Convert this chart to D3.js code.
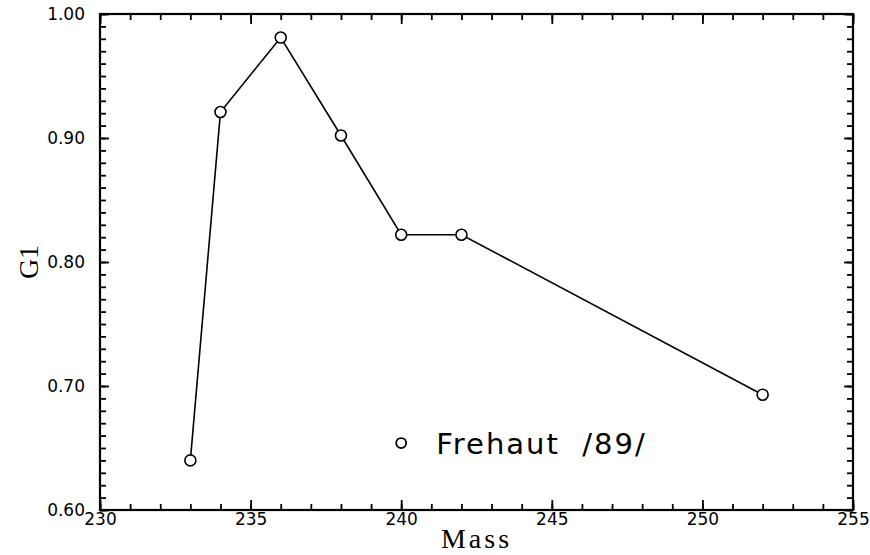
<!DOCTYPE html>
<html>
<head>
  <meta charset="UTF-8">
  <title>G1 vs Mass</title>
  <script src="https://d3js.org/d3.v7.min.js"></script>
  <style>
    body {
      margin: 0;
      background: #fff;
    }
    .tick text {
      font-family: "DejaVu Sans", sans-serif;
      font-size: 17px;
      fill: #000;
    }
    .axis-title {
      font-family: "Liberation Serif", "Times New Roman", serif;
      font-size: 28px;
      letter-spacing: 3px;
      fill: #000;
    }
    .legend-text {
      font-family: "DejaVu Sans", sans-serif;
      font-size: 29px;
      font-weight: 400;
      letter-spacing: 2px;
      fill: #000;
    }
  </style>
</head>
<body>
  <div id="chart"></div>
  <script>
    // data
    const masses = [233, 234, 236, 238, 240, 242, 252];
    const g1Values = [0.640, 0.921, 0.981, 0.902, 0.822, 0.822, 0.693];
    const xMajorTicks = [230, 235, 240, 245, 250, 255];
    const yMajorTicks = [0.60, 0.70, 0.80, 0.90, 1.00];
    const legendLabel = "Frehaut  /89/";

    const W = 870, H = 555;
    const margin = { top: 14, right: 17, bottom: 45, left: 100 };
    const width = W - margin.left - margin.right;
    const height = H - margin.top - margin.bottom;

    const x = d3.scaleLinear().domain([230, 255]).range([0, width]);
    const y = d3.scaleLinear().domain([0.60, 1.00]).range([height, 0]);

    const xMinor = d3.range(230, 256, 1);
    const yMinor = d3.range(0, 41).map(i => +(0.60 + i * 0.01).toFixed(2));

    const svg = d3.select("#chart")
      .append("svg")
      .attr("width", W)
      .attr("height", H)
      .append("g")
      .attr("transform", `translate(${margin.left}, ${margin.top})`);

    const styleAxis = g => {
      g.select(".domain").remove();
      g.selectAll(".tick line").attr("stroke", "#000").attr("stroke-width", 1.8);
    };

    // bottom
    svg.append("g")
      .attr("transform", `translate(0, ${height})`)
      .call(d3.axisBottom(x).tickValues(xMinor).tickSize(-6).tickFormat(""))
      .call(styleAxis);
    svg.append("g")
      .attr("transform", `translate(0, ${height})`)
      .call(d3.axisBottom(x).tickValues(xMajorTicks).tickSize(-10).tickPadding(3).tickFormat(d3.format("d")))
      .call(styleAxis);
    // top
    svg.append("g")
      .call(d3.axisTop(x).tickValues(xMinor).tickSize(-6).tickFormat(""))
      .call(styleAxis);
    svg.append("g")
      .call(d3.axisTop(x).tickValues(xMajorTicks).tickSize(-10).tickFormat(""))
      .call(styleAxis);
    // left
    svg.append("g")
      .call(d3.axisLeft(y).tickValues(yMinor).tickSize(-6).tickFormat(""))
      .call(styleAxis);
    svg.append("g")
      .call(d3.axisLeft(y).tickValues(yMajorTicks).tickSize(-9).tickPadding(15).tickFormat(d3.format(".2f")))
      .call(styleAxis);
    // right
    svg.append("g")
      .attr("transform", `translate(${width}, 0)`)
      .call(d3.axisRight(y).tickValues(yMinor).tickSize(-6).tickFormat(""))
      .call(styleAxis);
    svg.append("g")
      .attr("transform", `translate(${width}, 0)`)
      .call(d3.axisRight(y).tickValues(yMajorTicks).tickSize(-9).tickFormat(""))
      .call(styleAxis);

    // frame
    svg.append("rect")
      .attr("width", width)
      .attr("height", height)
      .attr("fill", "none")
      .attr("stroke", "#000")
      .attr("stroke-width", 2.2);

    const points = masses.map((m, i) => ({ m: m, v: g1Values[i] }));

    svg.append("path")
      .datum(points)
      .attr("fill", "none")
      .attr("stroke", "#000")
      .attr("stroke-width", 1.6)
      .attr("d", d3.line().x(d => x(d.m)).y(d => y(d.v)));

    svg.selectAll(".pt")
      .data(points)
      .enter()
      .append("circle")
      .attr("class", "pt")
      .attr("cx", d => x(d.m))
      .attr("cy", d => y(d.v))
      .attr("r", 5.5)
      .attr("fill", "#fff")
      .attr("stroke", "#000")
      .attr("stroke-width", 1.6);

    // legend
    const lg = svg.append("g")
      .attr("transform", `translate(${x(240)}, ${y(0.654)})`);
    lg.append("circle")
      .attr("r", 5)
      .attr("fill", "none")
      .attr("stroke", "#000")
      .attr("stroke-width", 1.8);
    lg.append("text")
      .attr("class", "legend-text")
      .attr("x", 35)
      .attr("y", 11)
      .text(legendLabel)
      .style("white-space", "pre");

    // axis titles
    svg.append("text")
      .attr("class", "axis-title")
      .attr("x", x(242.5))
      .attr("y", height + 38)
      .attr("text-anchor", "middle")
      .text("Mass");
    svg.append("text")
      .attr("class", "axis-title")
      .attr("transform", `translate(-62, ${y(0.80)}) rotate(-90)`)
      .attr("text-anchor", "middle")
      .style("letter-spacing", "0px")
      .text("G1");
  </script>
</body>
</html>
